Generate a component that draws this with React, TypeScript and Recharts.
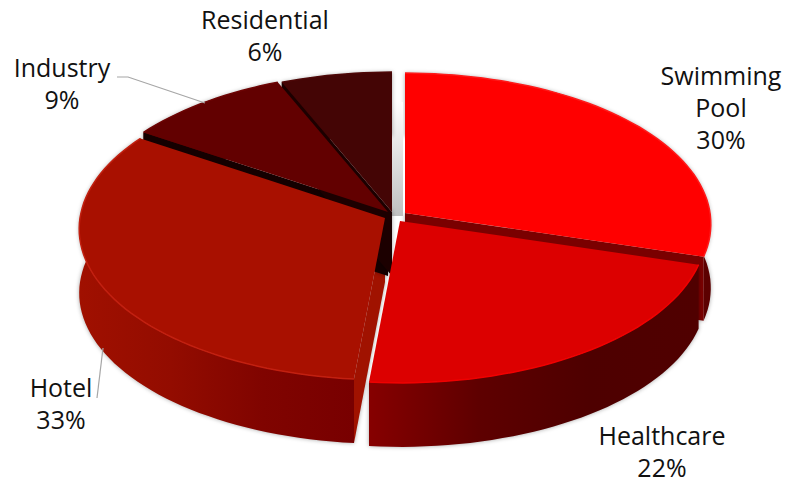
import { PieChart, Pie } from "recharts";

const categories = ["Swimming Pool", "Healthcare", "Hotel", "Industry", "Residential"];
const shares = [29.6, 21.9, 32.8, 9.4, 6.3];

const topColors = ["#ff0000", "#dc0000", "#a81000", "#620000", "#440505"];
const rimColors = ["#ff1a1a", "#f00000", "#c22010", "#6e0404", "#4e0808"];
const cutColors = ["#7a0000", "#7a0000", "#a01200", "#140000", "#1c0000"];
const wallStops = [
  ["#5c0000", "#5c0000"],
  ["#860000", "#5e0000", "#4e0000", "#500000"],
  ["#a01000", "#930c00", "#800400", "#780000"],
  ["#500000", "#500000"],
  ["#300000", "#300000"],
];
// where each exploded slice's tip sits, relative to the chart centre
const tipOffset = [[10, -2], [5, 6], [-10, 3], [-7, -3], [-3, -3]];

const labelX = [721, 662, 61, 62, 265];
const labelTop = [77, 437, 389, 69, 21];
const leaders = [null, null, "97,398 103,348", "117,77 128,77 205,103", null];

const CX = 395;
const CY = 215;
const RADIUS = 305;
const SQUASH = 0.492;
const PERSPECTIVE = 0.073;
const DEPTH = 64;

const pieData = categories.map((name, i) => ({ name, value: shares[i] }));

const project = (deg: number, r: number, tip: number[], drop = 0) => {
  const a = (deg * Math.PI) / 180;
  const u = Math.sin(a);
  const v = -Math.cos(a);
  const s = 1 / (1 - PERSPECTIVE * v);
  return [CX + tip[0] + r * u * s, CY + tip[1] + r * SQUASH * v * s + drop];
};

const arcPoints = (from: number, to: number, r: number, tip: number[], drop = 0) => {
  const pts: number[][] = [];
  const steps = Math.max(2, Math.ceil(Math.abs(to - from) / 2));
  for (let i = 0; i <= steps; i++) {
    pts.push(project(from + ((to - from) * i) / steps, r, tip, drop));
  }
  return pts;
};

const toLine = (pts: number[][]) =>
  "M" + pts.map((p) => `${p[0].toFixed(1)},${p[1].toFixed(1)}`).join("L");

const sliceInfo = (props: any) => {
  const idx = categories.indexOf(props.name ?? props.payload?.name);
  const from = 90 - props.startAngle;
  const to = 90 - props.endAngle;
  const tip = tipOffset[idx];
  return { idx, from, to, tip, r: props.outerRadius };
};

const WallShape = (props: any) => {
  const { idx, from, to, tip, r } = sliceInfo(props);
  const arc = arcPoints(from, to, r, tip);
  const arcLow = arcPoints(to, from, r, tip, DEPTH);
  const xs = arc.map((p) => p[0]);
  const apex = project(0, 0, tip);
  const edge = (deg: number) => {
    const p = project(deg, r, tip);
    return [apex, p, [p[0], p[1] + DEPTH], [apex[0], apex[1] + DEPTH]];
  };
  // only the cut faces turned towards the viewer get drawn
  const fromVisible = Math.sin((from * Math.PI) / 180) < 0;
  const toVisible = Math.sin((to * Math.PI) / 180) > 0;
  const stops = wallStops[idx];
  return (
    <g>
      <defs>
        <linearGradient
          id={`wall${idx}`}
          gradientUnits="userSpaceOnUse"
          x1={Math.min(...xs)}
          x2={Math.max(...xs)}
          y1={0}
          y2={0}
        >
          {stops.map((c, i) => (
            <stop key={i} offset={i / (stops.length - 1)} stopColor={c} />
          ))}
        </linearGradient>
        <linearGradient id={`gap${idx}`} x1={0} x2={0} y1={0} y2={1}>
          <stop offset={0} stopColor="#ffffff" />
          <stop offset={1} stopColor="#c0c0c0" />
        </linearGradient>
      </defs>
      {/* soft shadow in the gap next to the last slice */}
      {idx === categories.length - 1 && (
        <path
          d={toLine([
            [apex[0], apex[1] - 110],
            [apex[0] + 11, apex[1] - 110],
            [apex[0] + 11, apex[1] + 4],
            [apex[0], apex[1] + 4],
          ]) + "Z"}
          fill={`url(#gap${idx})`}
        />
      )}
      <g style={{ filter: "drop-shadow(0 0 2px rgba(0,0,0,0.35))" }}>
        <path d={toLine([...arc, ...arcLow]) + "Z"} fill={`url(#wall${idx})`} />
        {fromVisible && <path d={toLine(edge(from)) + "Z"} fill={cutColors[idx]} />}
        {toVisible && <path d={toLine(edge(to)) + "Z"} fill={cutColors[idx]} />}
      </g>
    </g>
  );
};

const TopShape = (props: any) => {
  const { idx, from, to, tip, r } = sliceInfo(props);
  const arc = arcPoints(from, to, r, tip);
  const apex = project(0, 0, tip);
  return (
    <g>
      <path d={toLine([apex, ...arc]) + "Z"} fill={topColors[idx]} />
      <path d={toLine(arc)} fill="none" stroke={rimColors[idx]} strokeWidth={1.5} />
    </g>
  );
};

const renderLabel = (props: any) => {
  const idx = categories.indexOf(props.name ?? props.payload?.name);
  const lines = [...categories[idx].split(" "), `${Math.round(shares[idx])}%`];
  return (
    <g key={categories[idx]}>
      {leaders[idx] && <polyline points={leaders[idx]!} fill="none" stroke="#a6a6a6" strokeWidth={1.2} />}
      <text textAnchor="middle" y={labelTop[idx]} fontFamily="'Open Sans'" fontSize={25} fill="#111">
        {lines.map((t, i) => (
          <tspan key={t} x={labelX[idx]} dy={i === 0 ? 8 : 32}>
            {t}
          </tspan>
        ))}
      </text>
    </g>
  );
};

export default function App() {
  return (
    <div style={{ position: "absolute", left: 0, top: 0, width: 796, height: 482, background: "#fff" }}>
      <PieChart width={796} height={482} margin={{ top: 0, right: 0, bottom: 0, left: 0 }}>
        <Pie
          data={pieData}
          dataKey="value"
          nameKey="name"
          cx={CX}
          cy={CY}
          outerRadius={RADIUS}
          startAngle={90}
          endAngle={-270}
          stroke="none"
          shape={WallShape}
          label={false}
          labelLine={false}
          isAnimationActive={false}
        />
        <Pie
          data={pieData}
          dataKey="value"
          nameKey="name"
          cx={CX}
          cy={CY}
          outerRadius={RADIUS}
          startAngle={90}
          endAngle={-270}
          stroke="none"
          shape={TopShape}
          label={renderLabel}
          labelLine={false}
          isAnimationActive={false}
        />
      </PieChart>
    </div>
  );
}
